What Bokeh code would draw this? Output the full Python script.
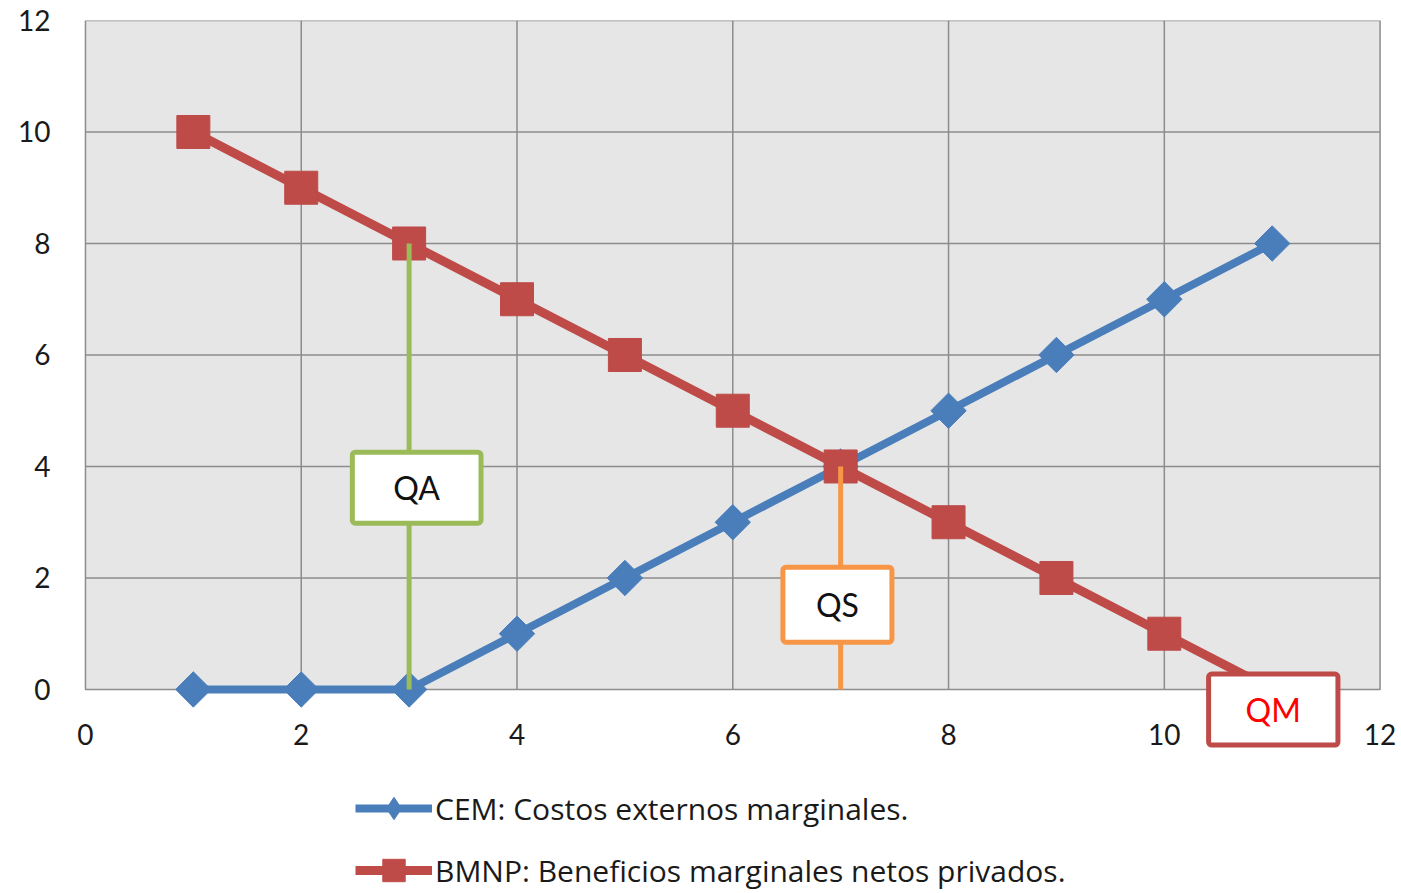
from bokeh.plotting import figure
from bokeh.models import Range1d, Label, Legend, LegendItem, FixedTicker, ColumnDataSource, LinearAxis
from bokeh.embed import file_html
from bokeh.resources import INLINE

# ---- data ----
x_vals = [1, 2, 3, 4, 5, 6, 7, 8, 9, 10, 11]
cem = [0, 0, 0, 1, 2, 3, 4, 5, 6, 7, 8]
bmnp = [10, 9, 8, 7, 6, 5, 4, 3, 2, 1, 0]
ticks = [0, 2, 4, 6, 8, 10, 12]
inner_ticks = [2, 4, 6, 8, 10]
cem_label = "CEM: Costos externos marginales."
bmnp_label = "BMNP: Beneficios marginales netos privados."
qa_x, qa_top = 3, 8
qs_x, qs_top = 7, 4
qm_x = 11

FONT = "Lato"
LEG_FONT = "Open Sans"
BLUE = "#4a7ebb"
RED = "#be4b48"
GREEN = "#9bbb59"
ORANGE = "#f79646"
GRID = "#8c8c8c"

p = figure(frame_width=1341, frame_height=873, output_backend="svg", toolbar_location=None,
           x_range=Range1d(-0.25, 12.18), y_range=Range1d(-3.66, 12), x_axis_location=None,
           min_border_left=58, min_border_top=20, min_border_right=2, min_border_bottom=0)
p.background_fill_color = "white"
p.border_fill_color = "white"
p.outline_line_color = None
p.grid.visible = False

# plot area background and border
p.quad(left=[ticks[0]], right=[ticks[-1]], bottom=[ticks[0]], top=[ticks[-1]],
       fill_color="#e6e6e6", line_color=GRID, line_width=1.5)
# grid lines
p.segment(x0=inner_ticks, y0=[ticks[0]] * 5, x1=inner_ticks, y1=[ticks[-1]] * 5,
          line_color=GRID, line_width=1.5)
p.segment(x0=[ticks[0]] * 5, y0=inner_ticks, x1=[ticks[-1]] * 5, y1=inner_ticks,
          line_color=GRID, line_width=1.5)

xaxis = LinearAxis(fixed_location=0)
p.add_layout(xaxis, "below")

for ax in (xaxis, p.yaxis[0]):
    ax.ticker = FixedTicker(ticks=ticks)
    ax.axis_line_color = None
    ax.major_tick_line_color = None
    ax.minor_tick_line_color = None
    ax.major_label_text_font = FONT
    ax.major_label_text_font_size = "28px"
    ax.major_label_text_color = "#1a1a1a"
xaxis.major_label_standoff = 29
p.yaxis[0].major_label_standoff = 2

src = ColumnDataSource(dict(x=x_vals, cem=cem, bmnp=bmnp))
l1 = p.line("x", "cem", source=src, line_color=BLUE, line_width=8)
s1d = p.scatter("x", "cem", source=src, marker="diamond", size=25,
                fill_color=BLUE, line_color=BLUE)
s1 = p.scatter("x", "cem", source=src, marker="square", angle=0.785398, size=25,
               fill_color=BLUE, line_color=BLUE)
l2 = p.line("x", "bmnp", source=src, line_color=RED, line_width=9)
s2 = p.scatter("x", "bmnp", source=src, marker="square", size=33, fill_color=RED, line_color=RED)

# vertical quantity lines
p.segment(x0=[qa_x], y0=[qa_top], x1=[qa_x], y1=[0], line_color=GREEN, line_width=5)
p.segment(x0=[qs_x], y0=[qs_top], x1=[qs_x], y1=[0], line_color=ORANGE, line_width=5)

def box_label(x, y, text, color, text_color, pad):
    lab = Label(x=x, y=y, text=text, text_align="center", text_baseline="middle",
                text_font=FONT, text_font_size="32px", text_color=text_color,
                background_fill_color="white", border_line_color=color, border_line_width=5,
                padding=pad, border_radius=3)
    p.add_layout(lab)

box_label(qa_x + 0.07, 3.62, "QA", GREEN, "#111111", (41, 16))
box_label(qs_x - 0.03, 1.52, "QS", ORANGE, "#111111", (33, 18))
box_label(qm_x + 0.01, -0.36, "QM", RED, "#ff0000", (37, 16))

legend = Legend(items=[LegendItem(label=cem_label, renderers=[l1, s1d]),
                       LegendItem(label=bmnp_label, renderers=[l2, s2])],
                location=(297, -5), orientation="vertical",
                glyph_width=77, glyph_height=56, label_height=56, spacing=6,
                label_standoff=3, label_text_font=LEG_FONT, label_text_font_size="30px",
                label_text_color="#1a1a1a", border_line_color=None,
                background_fill_color=None, padding=0, margin=0)
p.add_layout(legend, "center")

open("out.html", "w").write(file_html(p, INLINE))
